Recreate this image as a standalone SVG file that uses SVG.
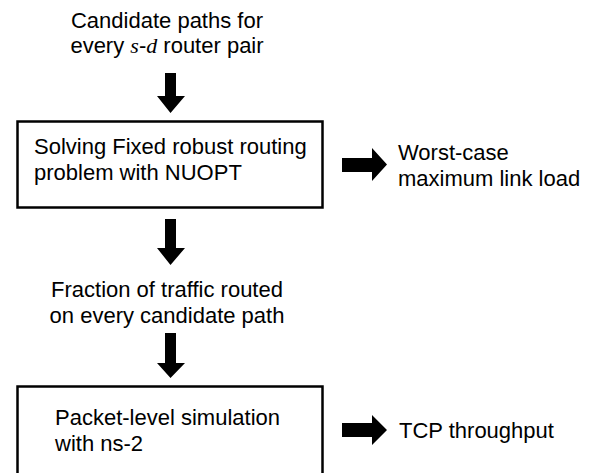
<svg xmlns="http://www.w3.org/2000/svg" width="595" height="473" viewBox="0 0 595 473">
<style>
text{font-family:"Liberation Sans",Arial,sans-serif;font-size:22px;fill:#000}
.it{font-family:"Liberation Serif","Times New Roman",serif;font-style:italic}
.box{fill:#fff;stroke:#000;stroke-width:2.5}
.arr{fill:#000}
</style>
<rect width="595" height="473" fill="#fff"/>
<g id="input">
<text x="167" y="28" text-anchor="middle">Candidate paths for</text>
<text x="167" y="53" text-anchor="middle">every <tspan class="it">s</tspan>-<tspan class="it">d</tspan> router pair</text>
</g>
<g id="solver">
<rect class="box" x="17.5" y="121.5" width="305" height="86"/>
<text x="34" y="154">Solving Fixed robust routing</text>
<text x="34" y="180">problem with NUOPT</text>
</g>
<g id="worstcase">
<text x="398" y="160">Worst-case</text>
<text x="398" y="186">maximum link load</text>
</g>
<g id="fraction">
<text x="167" y="297" text-anchor="middle">Fraction of traffic routed</text>
<text x="167" y="323" text-anchor="middle">on every candidate path</text>
</g>
<g id="simulation">
<rect class="box" x="17.5" y="386.5" width="305" height="100"/>
<text x="55" y="425">Packet-level simulation</text>
<text x="55" y="451">with ns-2</text>
</g>
<g id="tcp">
<text x="399" y="438">TCP throughput</text>
</g>
<g id="connectors">
<polygon class="arr" points="165,73 176,73 176,96 185,96 170.5,113 157,96 165,96"/>
<polygon class="arr" points="165,219 176,219 176,248 185,248 170.5,265 157,248 165,248"/>
<polygon class="arr" points="165,333 176,333 176,363 185,363 170.5,378 157,363 165,363"/>
<polygon class="arr" points="342,158 372,158 372,148 387,164.5 372,181 372,172 342,172"/>
<polygon class="arr" points="342,423 372,423 372,415 387,430 372,445 372,437 342,437"/>
</g>
</svg>
